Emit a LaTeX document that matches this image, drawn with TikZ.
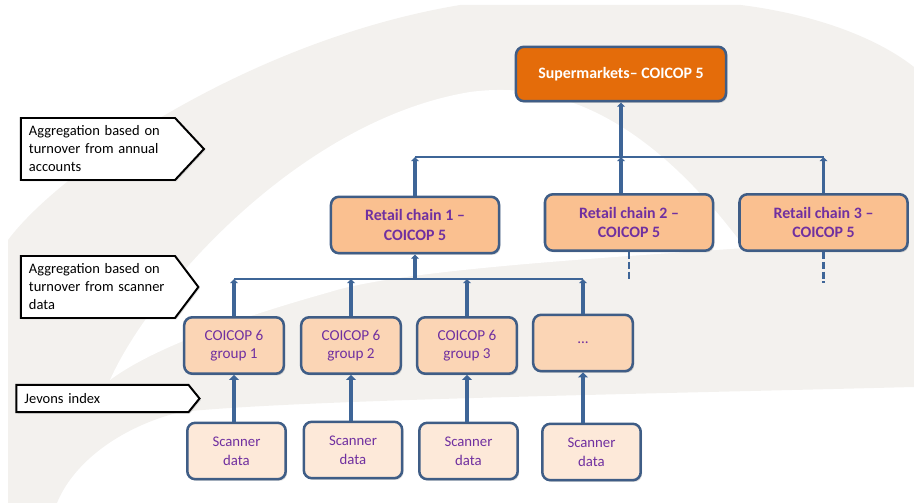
\documentclass[tikz,border=0pt]{standalone}
\usepackage{fontspec}
\setmainfont{Carlito}
\usetikzlibrary{arrows.meta,shapes.symbols,shadows}

\definecolor{linkblue}{HTML}{3E6597}
\definecolor{boxedge}{HTML}{3F5D86}
\definecolor{topfill}{HTML}{E46C0A}
\definecolor{chainfill}{HTML}{FAC090}
\definecolor{groupfill}{HTML}{FBD5B5}
\definecolor{datafill}{HTML}{FDE9D9}
\definecolor{txtpurple}{HTML}{7030A0}
\definecolor{bggrey}{HTML}{F3F1EE}

\begin{document}
\begin{tikzpicture}[x=0.025cm,y=-0.025cm,
  box/.style={draw=boxedge,line width=1.8pt,rounded corners=0.2cm,align=center,inner sep=0pt,
    drop shadow={opacity=0.3,shadow xshift=1pt,shadow yshift=-1.2pt}},
  topbox/.style={box,fill=topfill,text=white,font=\fontsize{11.3}{14}\selectfont\bfseries,
    minimum width=5.25cm,minimum height=1.36cm},
  chain/.style={box,fill=chainfill,text=txtpurple,font=\fontsize{11.3}{14}\selectfont\bfseries,
    minimum width=4.2cm,minimum height=1.41cm},
  group/.style={box,fill=groupfill,text=txtpurple,font=\fontsize{10.8}{13}\selectfont,
    minimum width=2.49cm,minimum height=1.41cm},
  data/.style={box,fill=datafill,text=txtpurple,font=\fontsize{10.5}{13.5}\selectfont,
    minimum width=2.46cm,minimum height=1.41cm},
  note/.style={signal,signal to=east,signal pointer angle=100,draw=black,line width=1.4pt,fill=white,
    text width=3.45cm,align=left,inner xsep=0.2cm,inner ysep=0.1cm,font=\fontsize{10.3}{12.8}\selectfont,
    drop shadow={opacity=0.25,shadow xshift=1pt,shadow yshift=-1pt}},
  bar/.style={draw=linkblue,line width=2.1pt},
  link/.style={draw=linkblue,line width=2.8pt,-{Triangle[width=5.5pt,length=3pt]}},
  feed/.style={draw=linkblue,line width=3.5pt,-{Triangle[width=7pt,length=3.5pt]}},
  stub/.style={draw=linkblue,line width=2.1pt,dash pattern=on 5pt off 2pt}]

\useasboundingbox (0,0) rectangle (914,503);

% background swoosh
\fill[bggrey] (8,503) -- (8,240) .. controls (60,170) and (250,40) .. (460,5) -- (741,5)
  .. controls (820,15) and (880,40) .. (914,67) -- (914,387)
  .. controls (600,395) and (300,400) .. (180,412) .. controls (110,430) and (70,470) .. (57,503) -- cycle;
\fill[white] (110,380) .. controls (150,290) and (300,120) .. (470,92)
  .. controls (560,80) and (650,120) .. (745,248)
  .. controls (600,258) and (400,270) .. (330,292)
  .. controls (230,320) and (150,350) .. (110,380) -- cycle;

\node[topbox] (sup) at (621,74) {Supermarkets– COICOP 5};

\node[chain] (r1) at (415,225) {Retail chain 1 –\\COICOP 5};
\node[chain] (r2) at (629,222.5) {Retail chain 2 –\\COICOP 5};
\node[chain] (r3) at (823.5,222.5) {Retail chain 3 –\\COICOP 5};

\node[group] (g1) at (234,345.5) {COICOP 6\\group 1};
\node[group] (g2) at (351,345.5) {COICOP 6\\group 2};
\node[group] (g3) at (467,345.5) {COICOP 6\\group 3};
\node[group] (g4) at (583,343) {...};

\node[data] (s1) at (236.5,451) {Scanner\\data};
\node[data] (s2) at (353,450) {Scanner\\data};
\node[data] (s3) at (468.5,451) {Scanner\\data};
\node[data] (s4) at (591.5,452) {Scanner\\data};

\node[note,signal pointer angle=94,minimum height=1.55cm] (l1) at (98,149)
  {Aggregation based on turnover from annual accounts};
\node[note,signal pointer angle=106,minimum height=1.55cm] (l2) at (98,287)
  {Aggregation based on turnover from scanner data};
\node[note,signal pointer angle=102,text width=3.9cm,minimum height=0.68cm] (l3) at (102.5,398.5)
  {Jevons index};

\coordinate (up) at (0,157);
\coordinate (low) at (0,279);

\draw[bar] (r1.north |- up) -- (r3.north |- up);
\draw[link] (r1.north) -- (r1.north |- up);
\draw[link] (r3.north) -- (r3.north |- up);
\draw[link] (r2.north -| sup.south) -- (sup.south |- up);
\draw[link] (sup.south |- up) -- (sup.south);

\draw[bar] (g1.north |- low) -- (g4.north |- low);
\foreach \g in {g1,g2,g3,g4}
  \draw[link] (\g.north) -- (\g.north |- low);
\draw[link] (r1.south |- low) -- (r1.south);

\draw[stub] (r2.south) -- ++(0,27);
\draw[stub] (r3.south) -- ++(0,31);

\foreach \i in {1,...,4}
  \draw[feed] (g\i.south |- s\i.north) -- (g\i.south);

\end{tikzpicture}
\end{document}
